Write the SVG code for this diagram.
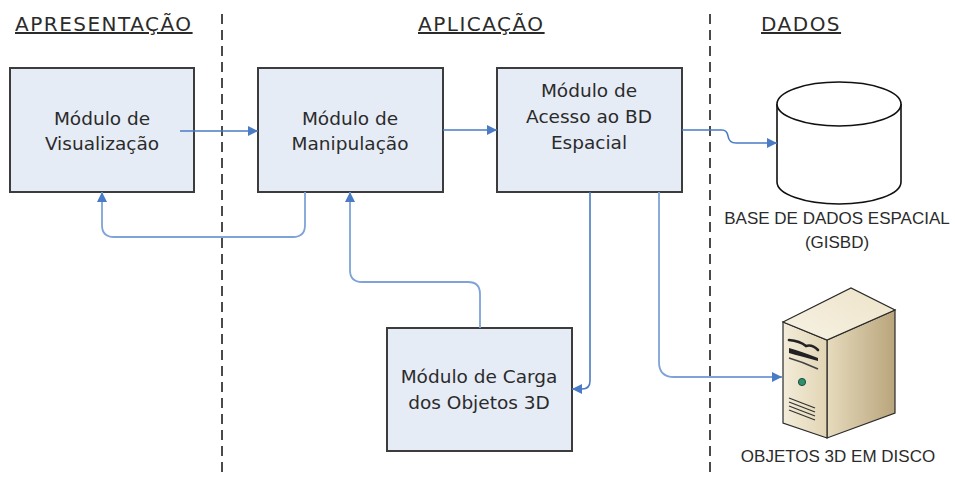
<svg xmlns="http://www.w3.org/2000/svg" width="955" height="478" viewBox="0 0 955 478">
  <defs>
    <style>
      .box { fill: #e6ecf6; stroke: #3c3c3c; stroke-width: 2; }
      .lbl { font-family: "DejaVu Sans", "Liberation Sans", sans-serif; font-size: 18.5px; fill: #2b2b2b; text-anchor: middle; }
      .head { font-family: "DejaVu Sans", "Liberation Sans", sans-serif; font-size: 20px; fill: #2b2b2b; letter-spacing: 1.5px; text-decoration: underline; }
      .cap { font-family: "Liberation Sans", Arial, sans-serif; font-size: 17px; fill: #2b2b2b; text-anchor: middle; }
      .sep { stroke: #4a4a4a; stroke-width: 2; stroke-dasharray: 10 6; fill: none; }
      .con { fill: none; stroke: #4a7bc5; stroke-width: 1.6; }
      .con2 { fill: none; stroke: #7fa3d8; stroke-width: 1.8; }
    </style>
    <marker id="arr" viewBox="0 0 10 10" refX="10" refY="5" markerWidth="10" markerHeight="10" markerUnits="userSpaceOnUse" orient="auto">
      <path d="M0,0 L10,5 L0,10 z" fill="#4a7bc5"/>
    </marker>
    <linearGradient id="front" x1="0" y1="0" x2="1" y2="0">
      <stop offset="0" stop-color="#f3ecd9"/>
      <stop offset="1" stop-color="#e2d5b4"/>
    </linearGradient>
    <linearGradient id="side" x1="0" y1="0" x2="1" y2="0">
      <stop offset="0" stop-color="#e6dbbd"/>
      <stop offset="1" stop-color="#b9a57c"/>
    </linearGradient>
    <linearGradient id="top" x1="0" y1="1" x2="1" y2="0">
      <stop offset="0" stop-color="#f7f2e4"/>
      <stop offset="1" stop-color="#ede3c8"/>
    </linearGradient>
  </defs>

  <rect width="955" height="478" fill="#ffffff"/>

  <!-- layer separators -->
  <g id="separators">
    <line class="sep" x1="222" y1="14" x2="222" y2="478"/>
    <line class="sep" x1="710" y1="14" x2="710" y2="478"/>
  </g>

  <!-- layer headings -->
  <g id="headings">
    <text class="head" x="15" y="31">APRESENTAÇÃO</text>
    <text class="head" x="418" y="31">APLICAÇÃO</text>
    <text class="head" x="761" y="31">DADOS</text>
  </g>

  <g id="mod-visualizacao">
    <rect class="box" x="10" y="68" width="184" height="124"/>
    <text class="lbl" x="102" y="125">Módulo de</text>
    <text class="lbl" x="102" y="150">Visualização</text>
  </g>

  <g id="mod-manipulacao">
    <rect class="box" x="258" y="68" width="185" height="124"/>
    <text class="lbl" x="350" y="125">Módulo de</text>
    <text class="lbl" x="350" y="150">Manipulação</text>
  </g>

  <g id="mod-acesso">
    <rect class="box" x="497" y="68" width="185" height="124"/>
    <text class="lbl" x="589" y="97">Módulo de</text>
    <text class="lbl" x="589" y="123">Acesso ao BD</text>
    <text class="lbl" x="589" y="149">Espacial</text>
  </g>

  <g id="mod-carga">
    <rect class="box" x="387" y="328" width="185" height="123"/>
    <text class="lbl" x="479" y="383">Módulo de Carga</text>
    <text class="lbl" x="479" y="409">dos Objetos 3D</text>
  </g>

  <g id="base-dados">
    <path d="M777,104 V182 A62,22 0 0 0 901,182 V104" fill="#fff" stroke="#111" stroke-width="1.6"/>
    <ellipse cx="839" cy="104" rx="62" ry="22" fill="#fff" stroke="#111" stroke-width="1.6"/>
    <text class="cap" x="837" y="224">BASE DE DADOS ESPACIAL</text>
    <text class="cap" x="837" y="248">(GISBD)</text>
  </g>

  <g id="objetos-disco">
    <!-- tower case -->
    <path d="M827,340 L895,310 L895,413 L827,438 z" fill="url(#side)" stroke="#2a2a2a" stroke-width="1.2"/>
    <path d="M783,322 L827,340 L827,438 L783,423 z" fill="url(#front)" stroke="#2a2a2a" stroke-width="1.2"/>
    <path d="M783,322 L851,288 L895,310 L827,340 z" fill="url(#top)" stroke="#2a2a2a" stroke-width="1.2"/>
    <!-- drive bays -->
    <path d="M789,340 Q800,341 806,346 Q812,344 818,350" fill="none" stroke="#222" stroke-width="2.6" stroke-linecap="round"/>
    <path d="M789,348 Q800,351 818,358 L818,361 Q800,356 789,353 z" fill="#222"/>
    <path d="M789,358 Q803,362 818,369" fill="none" stroke="#444" stroke-width="1.6"/>
    <!-- power led -->
    <circle cx="802" cy="382" r="3.6" fill="#2f8f6f" stroke="#1d4f3d" stroke-width="1"/>
    <!-- vents -->
    <g stroke="#333" stroke-width="1.3">
      <line x1="789" y1="398" x2="815" y2="408"/>
      <line x1="789" y1="402" x2="815" y2="412"/>
      <line x1="789" y1="406" x2="815" y2="416"/>
      <line x1="789" y1="410" x2="815" y2="420"/>
    </g>
    <text class="cap" x="838" y="462">OBJETOS 3D EM DISCO</text>
  </g>

  <!-- connectors, drawn over the boxes -->
  <g id="connectors">
    <path class="con" d="M180,131 H258" marker-end="url(#arr)"/>
    <path class="con" d="M443,130 H497" marker-end="url(#arr)"/>
    <path class="con" d="M682,130 H722 Q727,130 728,136 Q729,143 736,143 H777" marker-end="url(#arr)"/>
    <path class="con2" d="M305,192 V225 Q305,237 293,237 H114 Q102,237 102,225 V192" marker-end="url(#arr)"/>
    <path class="con2" d="M480,328 V294 Q480,282 468,282 H362 Q350,282 350,270 V192" marker-end="url(#arr)"/>
    <path class="con" d="M590,192 V381 Q590,389 582,389 H572" marker-end="url(#arr)"/>
    <path class="con2" d="M659,192 V362 Q659,377 674,377 H782" marker-end="url(#arr)"/>
  </g>
</svg>
